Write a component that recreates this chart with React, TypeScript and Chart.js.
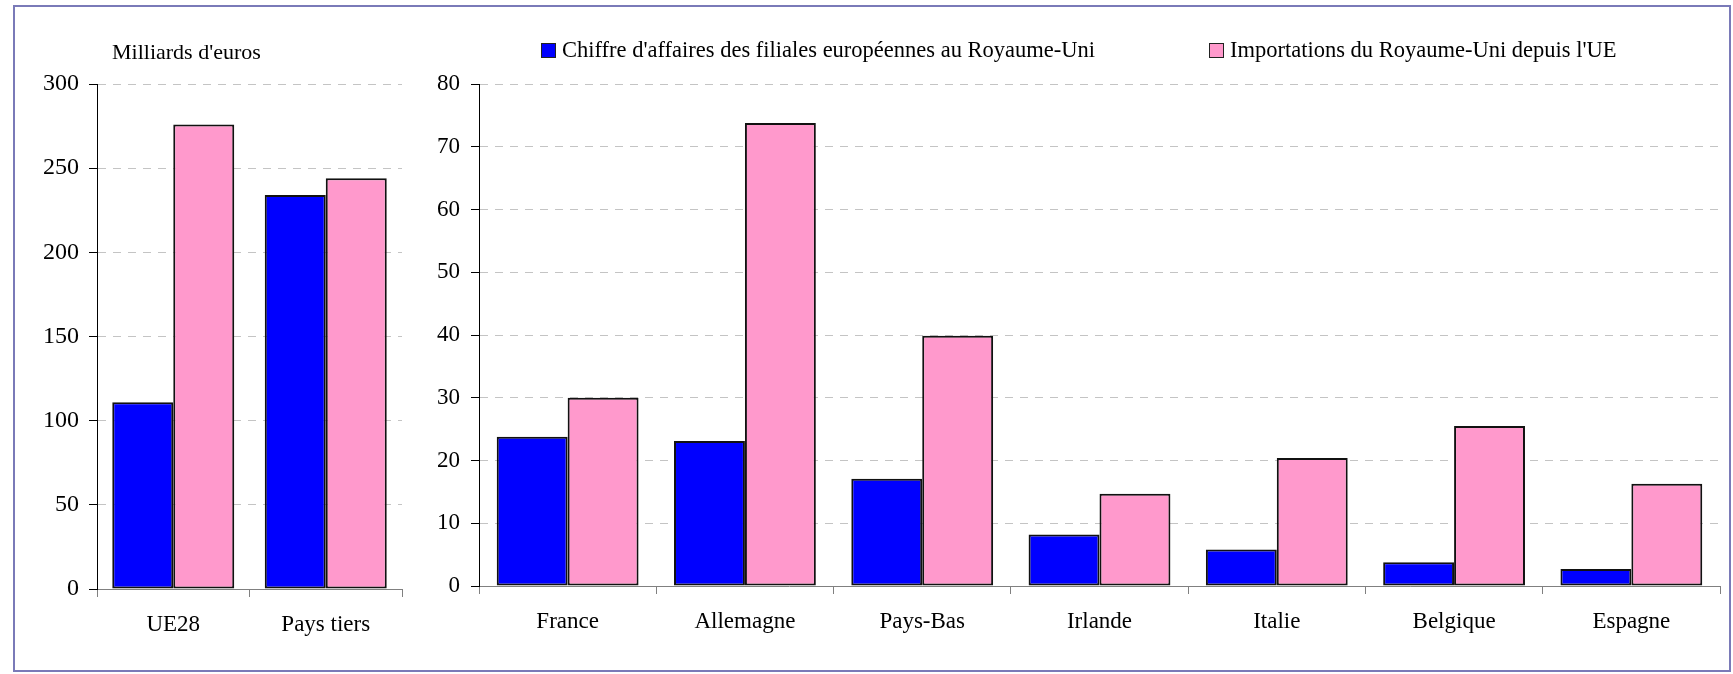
import React, { useEffect, useRef } from 'react';
import { Chart, registerables } from 'chart.js';

Chart.register(...registerables);

const FONT = '"Liberation Serif", "Times New Roman", Times, serif';

// ---- data ----
const seriesNames = [
  "Chiffre d'affaires des filiales européennes au Royaume-Uni",
  "Importations du Royaume-Uni depuis l'UE",
];
const unitLabel = "Milliards d'euros";

const zoneCategories = ['UE28', 'Pays tiers'];
const zoneChiffre = [111, 234];
const zoneImports = [276, 244];
const zoneAxis = { min: 0, max: 300, step: 50 };

const countryCategories = ['France', 'Allemagne', 'Pays-Bas', 'Irlande', 'Italie', 'Belgique', 'Espagne'];
const countryChiffre = [23.8, 23.1, 17.1, 8.2, 5.8, 3.8, 2.7];
const countryImports = [30.0, 73.8, 39.9, 14.7, 20.4, 25.5, 16.3];
const countryAxis = { min: 0, max: 80, step: 10 };

const BLUE = '#0000ff';
const PINK = '#ff99cc';
const GRID = '#c4c4c4';
const AXIS_GRAY = '#808080';

type PanelOpts = {
  labels: string[];
  a: number[];
  b: number[];
  axis: { min: number; max: number; step: number };
  yWidth: number;
  xHeight: number;
  padRight: number;
  yTickPad: number;
  yFont: number;
  xFont: number;
  xTickPad: number;
};

function makeConfig(o: PanelOpts): any {
  return {
    type: 'bar',
    data: {
      labels: o.labels,
      datasets: [
        {
          label: seriesNames[0],
          data: o.a,
          backgroundColor: BLUE,
          borderColor: '#111111',
          borderWidth: 2,
          borderSkipped: false,
          categoryPercentage: 0.8,
          barPercentage: 1.0,
        },
        {
          label: seriesNames[1],
          data: o.b,
          backgroundColor: PINK,
          borderColor: '#111111',
          borderWidth: 2,
          borderSkipped: false,
          categoryPercentage: 0.8,
          barPercentage: 1.0,
        },
      ],
    },
    options: {
      animation: false,
      responsive: false,
      devicePixelRatio: 1,
      layout: { padding: { top: 84, right: o.padRight, bottom: 0, left: 0 } },
      plugins: {
        legend: { display: false },
        tooltip: { enabled: false },
        title: { display: false },
      },
      scales: {
        x: {
          afterFit: (scale: any) => {
            scale.height = o.xHeight;
          },
          grid: {
            display: true,
            drawOnChartArea: false,
            drawTicks: true,
            tickLength: 8,
            offset: true,
            color: AXIS_GRAY,
            tickColor: AXIS_GRAY,
            lineWidth: 1,
          },
          border: { display: true, color: AXIS_GRAY, width: 1 },
          ticks: {
            color: '#000',
            padding: o.xTickPad,
            font: { family: FONT, size: o.xFont },
            maxRotation: 0,
            autoSkip: false,
          },
        },
        y: {
          min: o.axis.min,
          max: o.axis.max,
          afterFit: (scale: any) => {
            scale.width = o.yWidth;
          },
          grid: {
            display: true,
            drawOnChartArea: true,
            drawTicks: true,
            tickLength: 8,
            color: GRID,
            tickColor: '#000',
            lineWidth: 1,
            tickBorderDash: [],
          },
          border: { display: true, color: '#000', width: 1, dash: [8, 7] },
          ticks: {
            stepSize: o.axis.step,
            color: '#000',
            padding: o.yTickPad,
            font: { family: FONT, size: o.yFont },
          },
        },
      },
    },
  };
}

function BarPanel({ left, width, opts }: { left: number; width: number; opts: PanelOpts }) {
  const ref = useRef<HTMLCanvasElement>(null);
  useEffect(() => {
    const chart = new Chart(ref.current as HTMLCanvasElement, makeConfig(opts));
    return () => chart.destroy();
  }, []);
  return (
    <canvas
      ref={ref}
      width={width}
      height={674}
      style={{ position: 'absolute', left, top: 0, width, height: 674, display: 'block' }}
    />
  );
}

function LegendItem({ left, color, text }: { left: number; color: string; text: string }) {
  return (
    <>
      <div
        style={{
          position: 'absolute',
          left,
          top: 43,
          width: 13,
          height: 13,
          background: color,
          border: '1px solid #222',
        }}
      />
      <div
        style={{
          position: 'absolute',
          left: left + 21,
          top: 36,
          fontFamily: FONT,
          fontSize: 22.5,
          lineHeight: '28px',
          whiteSpace: 'nowrap',
          color: '#000',
        }}
      >
        {text}
      </div>
    </>
  );
}

export default function App() {
  const zoneOpts: PanelOpts = {
    labels: zoneCategories,
    a: zoneChiffre,
    b: zoneImports,
    axis: zoneAxis,
    yWidth: 97,
    xHeight: 85,
    padRight: 18,
    yTickPad: 10,
    yFont: 24,
    xFont: 23,
    xTickPad: 14,
  };
  const countryOpts: PanelOpts = {
    labels: countryCategories,
    a: countryChiffre,
    b: countryImports,
    axis: countryAxis,
    yWidth: 59,
    xHeight: 88,
    padRight: 13,
    yTickPad: 11,
    yFont: 23,
    xFont: 23,
    xTickPad: 14,
  };
  return (
    <div
      style={{
        position: 'fixed',
        left: 0,
        top: 0,
        width: 1733,
        height: 674,
        background: '#fff',
        overflow: 'hidden',
      }}
    >
      <div
        style={{
          position: 'absolute',
          left: 13,
          top: 5,
          width: 1731 - 13 - 4,
          height: 672 - 5 - 4,
          border: '2px solid #7a7ab8',
        }}
      />
      <BarPanel left={0} width={420} opts={zoneOpts} />
      <BarPanel left={420} width={1313} opts={countryOpts} />
      <div
        style={{
          position: 'absolute',
          left: 112,
          top: 39,
          fontFamily: FONT,
          fontSize: 22,
          lineHeight: '26px',
          whiteSpace: 'nowrap',
          color: '#000',
        }}
      >
        {unitLabel}
      </div>
      <LegendItem left={541} color={BLUE} text={seriesNames[0]} />
      <LegendItem left={1209} color={PINK} text={seriesNames[1]} />
    </div>
  );
}
